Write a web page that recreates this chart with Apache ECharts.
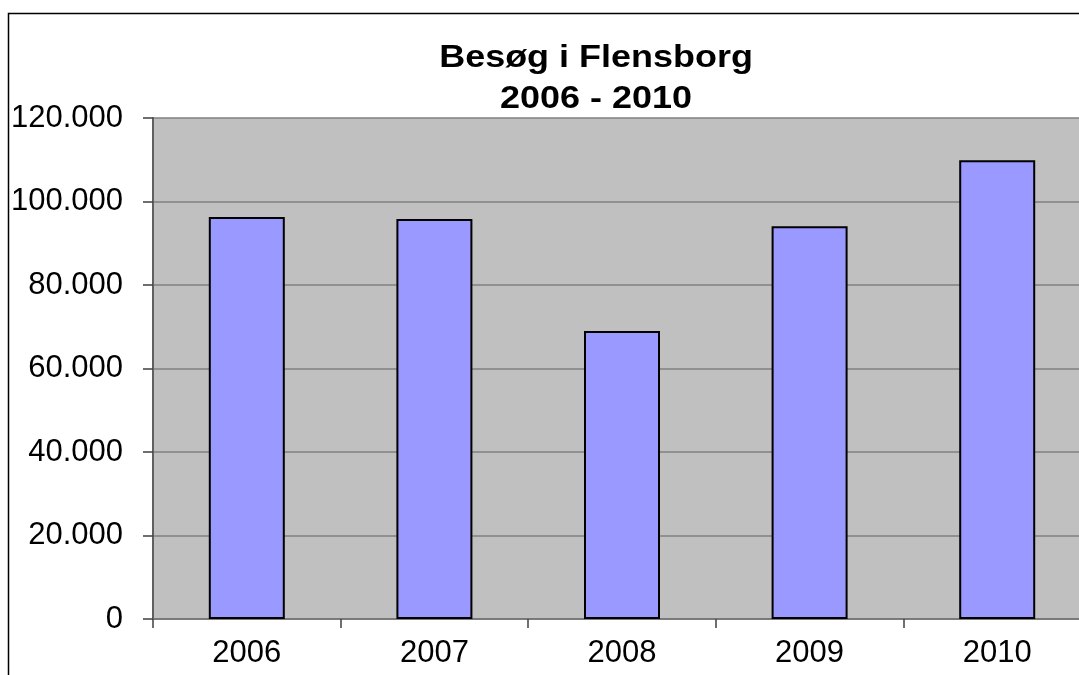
<!DOCTYPE html>
<html>
<head>
<meta charset="utf-8">
<script src="https://cdn.jsdelivr.net/npm/echarts@6/dist/echarts.min.js"></script>
<style>
  html, body { margin: 0; padding: 0; background: #fff; }
  #chart { width: 1079px; height: 675px; }
</style>
</head>
<body>
<div id="chart"></div>
<script>
const years = ["2006", "2007", "2008", "2009", "2010"];
const visits = [96300, 95800, 69000, 94100, 109900];
const yTicks = [0, 20000, 40000, 60000, 80000, 100000, 120000];

const fmt = (v) => (v === 0 ? "0" : v / 1000 + ".000");

const myChart = echarts.init(document.getElementById("chart"));

const option = {
  animation: false,
  backgroundColor: "#ffffff",
  graphic: [
    {
      // outer chart border, cut off at right and bottom like the original
      type: "rect",
      silent: true,
      shape: { x: 8.5, y: 13.5, width: 1200, height: 800 },
      style: { fill: "none", stroke: "#000", lineWidth: 1.5 },
    },
    {
      type: "text",
      silent: true,
      x: 596,
      y: 38,
      scaleX: 1.16,
      style: {
        text: "Besøg i Flensborg\n2006 - 2010",
        x: 0,
        y: 0,
        textAlign: "center",
        textVerticalAlign: "top",
        font: "bold 31px 'Liberation Sans', Arial, sans-serif",
        lineHeight: 41,
        fill: "#000",
      },
    },
  ],
  grid: {
    left: 153,
    top: 118,
    width: 938,
    bottom: 56,
    outerBoundsMode: "none",
    show: true,
    backgroundColor: "#c0c0c0",
    borderWidth: 0,
  },
  xAxis: {
    type: "category",
    data: years,
    axisLine: { lineStyle: { color: "#707070", width: 1.5 } },
    axisTick: { show: true, length: 9, lineStyle: { color: "#404040", width: 1.5 } },
    axisLabel: {
      margin: 19,
      fontFamily: "Liberation Sans, Arial, sans-serif",
      fontSize: 31,
      color: "#000",
    },
  },
  yAxis: {
    type: "value",
    min: yTicks[0],
    max: yTicks[yTicks.length - 1],
    interval: yTicks[1] - yTicks[0],
    axisLine: { show: true, lineStyle: { color: "#606060", width: 2 } },
    axisTick: { show: true, length: 10, lineStyle: { color: "#404040", width: 1.5 } },
    splitLine: { show: true, lineStyle: { color: "#808080", width: 1.5 } },
    axisLabel: {
      margin: 30,
      fontFamily: "Liberation Sans, Arial, sans-serif",
      fontSize: 31,
      color: "#000",
      formatter: fmt,
    },
  },
  series: [
    {
      type: "bar",
      data: visits,
      barWidth: 76,
      itemStyle: {
        color: "#9999ff",
        borderColor: "#000",
        borderWidth: 2,
      },
    },
  ],
};

myChart.setOption(option);
</script>
</body>
</html>
